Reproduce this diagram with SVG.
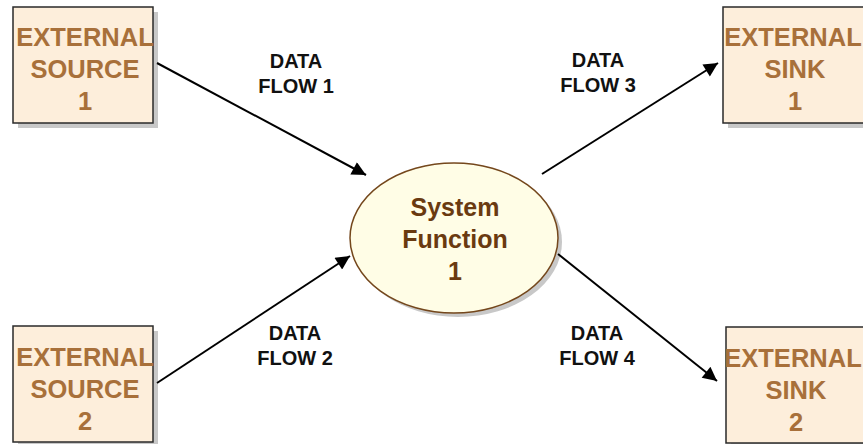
<svg xmlns="http://www.w3.org/2000/svg" width="863" height="444" viewBox="0 0 863 444">
<style>
.shadow{fill:#c8c8c8}
.box{fill:#fdeedb;stroke:#2a2a2a;stroke-width:1.5}
.btxt{font-family:"Liberation Sans",Arial,sans-serif;font-weight:bold;font-size:25.5px;fill:#a8703a;text-anchor:middle}
.ell{fill:#fffde6;stroke:#74471c;stroke-width:1.5}
.etxt{font-family:"Liberation Sans",Arial,sans-serif;font-weight:bold;font-size:25px;fill:#6a3a10;text-anchor:middle}
.ltxt{font-family:"Liberation Sans",Arial,sans-serif;font-weight:bold;font-size:20px;fill:#111;text-anchor:middle}
.flow{stroke:#000;stroke-width:2;fill:none;marker-end:url(#ah)}
</style>
<defs>
<marker id="ah" viewBox="0 0 10 10" refX="10" refY="5" markerWidth="9" markerHeight="7" markerUnits="strokeWidth" orient="auto">
<path d="M0,0 L10,5 L0,10 z" fill="#000"/>
</marker>
</defs>
<rect width="863" height="444" fill="#fff"/>
<g id="source1">
<rect class="shadow" x="18" y="12" width="140" height="116"/>
<rect class="box" x="13" y="7" width="140" height="116"/>
<text class="btxt" x="85" y="46">EXTERNAL</text>
<text class="btxt" x="85" y="78">SOURCE</text>
<text class="btxt" x="85" y="110">1</text>
</g>
<g id="source2">
<rect class="shadow" x="18" y="331" width="140" height="116"/>
<rect class="box" x="13" y="326" width="140" height="116"/>
<text class="btxt" x="85" y="366">EXTERNAL</text>
<text class="btxt" x="85" y="398">SOURCE</text>
<text class="btxt" x="85" y="430">2</text>
</g>
<g id="sink1">
<rect class="shadow" x="728" y="12" width="145" height="116"/>
<rect class="box" x="723" y="7" width="145" height="116"/>
<text class="btxt" x="793" y="46">EXTERNAL</text>
<text class="btxt" x="795" y="78">SINK</text>
<text class="btxt" x="795" y="110">1</text>
</g>
<g id="sink2">
<rect class="shadow" x="731" y="332" width="145" height="116"/>
<rect class="box" x="726" y="327" width="145" height="116"/>
<text class="btxt" x="793" y="367">EXTERNAL</text>
<text class="btxt" x="796" y="399">SINK</text>
<text class="btxt" x="796" y="431">2</text>
</g>
<g id="process1">
<ellipse class="shadow" cx="458" cy="242" rx="104" ry="75"/>
<ellipse class="ell" cx="454" cy="238" rx="104" ry="75"/>
<text class="etxt" x="455" y="216">System</text>
<text class="etxt" x="455" y="248">Function</text>
<text class="etxt" x="455" y="280">1</text>
</g>
<g id="connectors">
<line class="flow" x1="157" y1="63" x2="366" y2="175"/>
<line class="flow" x1="157" y1="383" x2="350" y2="256"/>
<line class="flow" x1="542" y1="174" x2="718" y2="63"/>
<line class="flow" x1="558" y1="254" x2="717" y2="381"/>
</g>
<g id="labels">
<text class="ltxt" x="296" y="68">DATA</text>
<text class="ltxt" x="296" y="93">FLOW 1</text>
<text class="ltxt" x="295" y="340">DATA</text>
<text class="ltxt" x="295" y="365">FLOW 2</text>
<text class="ltxt" x="598" y="67">DATA</text>
<text class="ltxt" x="598" y="92">FLOW 3</text>
<text class="ltxt" x="597" y="340">DATA</text>
<text class="ltxt" x="597" y="365">FLOW 4</text>
</g>
</svg>
